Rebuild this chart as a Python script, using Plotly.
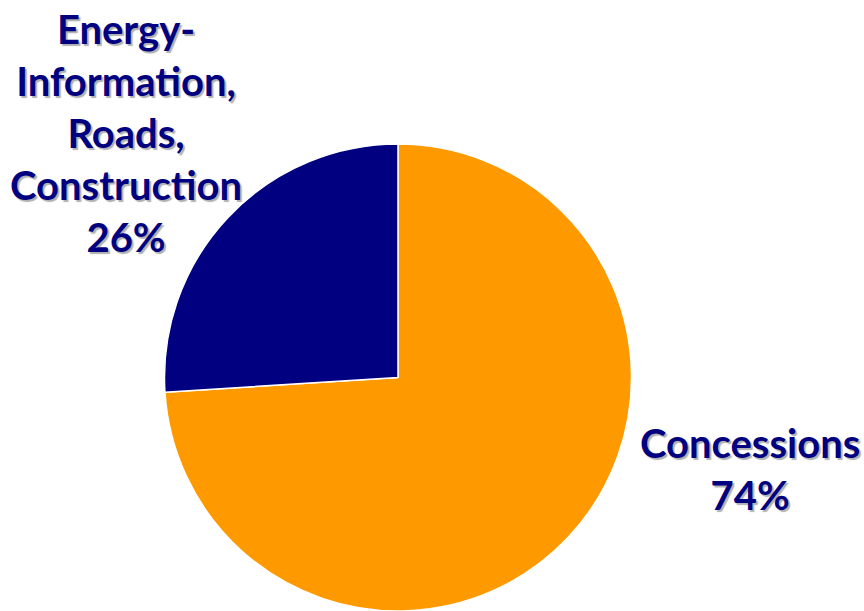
import plotly.graph_objects as go

labels = ["Concessions", "Energy-<br>Information,<br>Roads,<br>Construction"]
values = [74, 26]
colors = ["#FF9900", "#000080"]

W, H = 864, 611

fig = go.Figure(go.Pie(
    labels=labels, values=values, sort=False, direction="clockwise", rotation=0,
    marker=dict(colors=colors, line=dict(color="white", width=1.5)),
    textinfo="none", hoverinfo="label+percent", showlegend=False,
    domain=dict(x=[164 / W, 632 / W], y=[0.0, 1 - 144 / H]),
))

font = dict(family="Lato", size=40, color="#000080", weight="bold",
            shadow="2px 2px 1px #b0b0b0")
fig.add_annotation(x=126, y=H - 133, xref="x", yref="y",
                   text=labels[1] + "<br>" + f"{values[1]}%",
                   showarrow=False, font=font, align="center")
fig.add_annotation(x=750, y=H - 469, xref="x", yref="y",
                   text=labels[0] + "<br>" + f"{values[0]}%",
                   showarrow=False, font=font, align="center")

fig.update_layout(
    width=W, height=H, margin=dict(l=0, r=0, t=0, b=0),
    paper_bgcolor="white", plot_bgcolor="white",
    xaxis=dict(range=[0, W], visible=False, fixedrange=True),
    yaxis=dict(range=[0, H], visible=False, fixedrange=True),
)
fig.write_html("out.html", config={"displayModeBar": False},
               post_script="document.body.style.margin='0';")
